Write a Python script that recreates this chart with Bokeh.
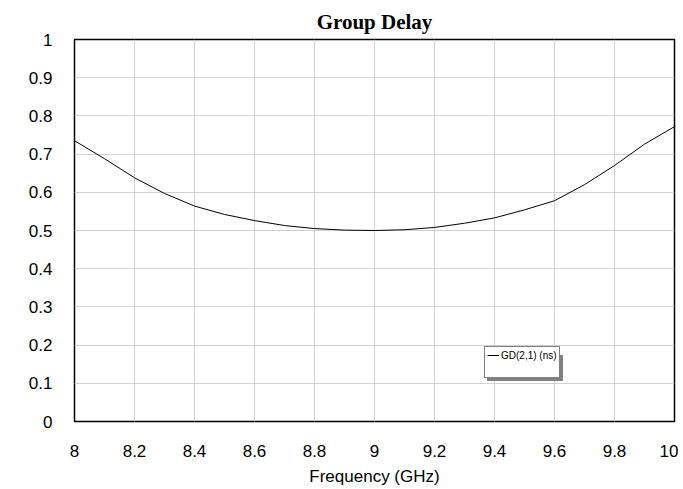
from bokeh.plotting import figure
from bokeh.models import FixedTicker, Legend, LegendItem, ColumnDataSource, Range1d
from bokeh.embed import file_html
from bokeh.resources import INLINE

freq = [8.0, 8.1, 8.2, 8.3, 8.4, 8.5, 8.6, 8.7, 8.8, 8.9, 9.0,
        9.1, 9.2, 9.3, 9.4, 9.5, 9.6, 9.7, 9.8, 9.9, 10.0]
gd = [0.735, 0.688, 0.638, 0.597, 0.564, 0.542, 0.526, 0.513, 0.505, 0.501, 0.500,
      0.502, 0.508, 0.519, 0.533, 0.554, 0.578, 0.620, 0.670, 0.726, 0.772]

x_ticks = [8, 8.2, 8.4, 8.6, 8.8, 9, 9.2, 9.4, 9.6, 9.8, 10]
x_tick_labels = ["8", "8.2", "8.4", "8.6", "8.8", "9", "9.2", "9.4", "9.6", "9.8", "10"]
y_ticks = [0, 0.1, 0.2, 0.3, 0.4, 0.5, 0.6, 0.7, 0.8, 0.9, 1]
y_tick_labels = ["0", "0.1", "0.2", "0.3", "0.4", "0.5", "0.6", "0.7", "0.8", "0.9", "1"]

p = figure(width=678, height=488, output_backend="svg", toolbar_location=None,
           x_range=Range1d(8, 10), y_range=Range1d(0, 1),
           min_border_left=74, min_border_right=4, min_border_top=39, min_border_bottom=60,
           title="Group Delay")
p.title.align = "center"
p.title.text_font = "Liberation Serif"
p.title.text_font_style = "bold"
p.title.text_font_size = "21px"
p.title.text_color = "black"
p.title.standoff = 11

p.outline_line_color = "black"
p.outline_line_width = 1.5
p.background_fill_color = "white"
p.border_fill_color = "white"

for ax, ticks, labels in ((p.xaxis[0], x_ticks, x_tick_labels), (p.yaxis[0], y_ticks, y_tick_labels)):
    ax.ticker = FixedTicker(ticks=ticks)
    ax.major_label_overrides = {t: l for t, l in zip(ticks, labels)}
    ax.major_tick_line_color = None
    ax.minor_tick_line_color = None
    ax.axis_line_color = None
    ax.major_label_text_font = "Liberation Sans"
    ax.major_label_text_font_size = "17px"
    ax.major_label_text_color = "black"

p.xaxis.major_label_standoff = 17
p.yaxis.major_label_standoff = 16
p.xaxis.axis_label = "Frequency (GHz)"
p.xaxis.axis_label_text_font = "Liberation Sans"
p.xaxis.axis_label_text_font_size = "17px"
p.xaxis.axis_label_text_font_style = "normal"
p.xaxis.axis_label_text_color = "black"
p.xaxis.axis_label_standoff = 7

p.xgrid.ticker = FixedTicker(ticks=x_ticks)
p.ygrid.ticker = FixedTicker(ticks=y_ticks)
p.grid.grid_line_color = "#d0d0d0"
p.grid.grid_line_width = 1

src = ColumnDataSource(dict(x=freq, y=gd))
r = p.line("x", "y", source=src, line_color="black", line_width=1)

empty = ColumnDataSource(dict(x=[], y=[]))
dummy = p.line("x", "y", source=empty, line_alpha=0)

def make_legend(main):
    items = [LegendItem(label="GD(2,1) (ns)" if main else "\u00a0", renderers=[r if main else dummy]),
             LegendItem(label="\u00a0", renderers=[dummy])]
    lg = Legend(items=items, orientation="vertical",
                location=(410, 43) if main else (413, 40),
                padding=2, spacing=2, margin=0,
                glyph_width=12, glyph_height=12, label_height=12,
                label_standoff=2, label_width=56 if main else 62,
                label_text_font="Liberation Sans", label_text_font_size="10px",
                label_text_color="black",
                border_line_color="black" if main else None,
                border_line_width=1,
                background_fill_color="white" if main else "#808080",
                background_fill_alpha=1)
    return lg

p.add_layout(make_legend(False), "center")
p.add_layout(make_legend(True), "center")

open("out.html", "w").write(file_html(p, INLINE))
